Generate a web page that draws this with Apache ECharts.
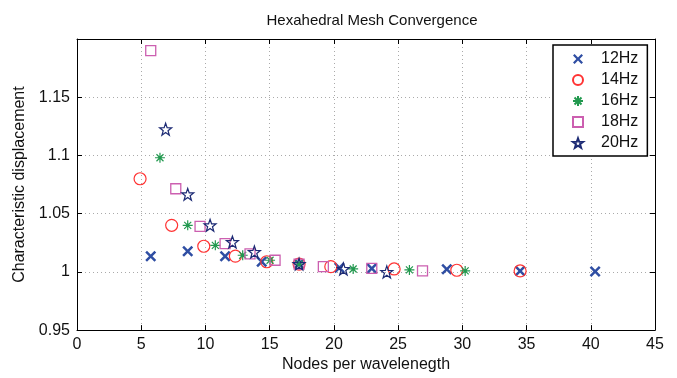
<!DOCTYPE html>
<html>
<head>
<meta charset="utf-8">
<script src="https://cdn.jsdelivr.net/npm/echarts@6/dist/echarts.min.js"></script>
<style>html,body{margin:0;padding:0;background:#fff;}#c{width:677px;height:378px;}</style>
</head>
<body>
<div id="c"></div>
<script>
const seriesNames = ['12Hz', '14Hz', '16Hz', '18Hz', '20Hz'];
const x12 = [5.74, 8.62, 11.53, 14.38, 17.29, 20.43, 22.95, 28.79, 34.5, 40.34];
const y12 = [1.0135, 1.0177, 1.0135, 1.0087, 1.0067, 1.0036, 1.003, 1.0023, 1.0008, 1.0003];
const x14 = [4.91, 7.37, 9.87, 12.33, 14.77, 17.29, 19.76, 24.69, 29.57, 34.5];
const y14 = [1.080, 1.040, 1.022, 1.0135, 1.0087, 1.0067, 1.0045, 1.0025, 1.0014, 1.0008];
const x16 = [6.46, 8.62, 10.77, 12.9, 15.03, 17.29, 21.5, 25.88, 30.22];
const y16 = [1.098, 1.040, 1.0228, 1.0143, 1.010, 1.0067, 1.0025, 1.0017, 1.0008];
const x18 = [5.74, 7.69, 9.58, 11.53, 13.47, 15.42, 17.29, 19.18, 22.95, 26.9];
const y18 = [1.19, 1.0714, 1.039, 1.0242, 1.0155, 1.010, 1.0067, 1.0045, 1.003, 1.0008];
const x20 = [6.9, 8.62, 10.36, 12.1, 13.81, 17.29, 20.74, 24.12];
const y20 = [1.1225, 1.0666, 1.040, 1.0256, 1.0171, 1.0067, 1.0025, 1.0];

const xTicks = [0, 5, 10, 15, 20, 25, 30, 35, 40, 45];
const yTicks = [0.95, 1, 1.05, 1.1, 1.15, 1.2];

const FONT = '"Liberation Sans", Arial, Helvetica, sans-serif';
const pair = (xs, ys) => xs.map((x, i) => [x, ys[i]]);

const SYM_X = 'path://M0,1.6 L1.6,0 L5,3.4 L8.4,0 L10,1.6 L6.6,5 L10,8.4 L8.4,10 L5,6.6 L1.6,10 L0,8.4 L3.4,5 Z';
const SYM_AST = 'path://M5,0 L5,10 M0,5 L10,5 M1.5,1.5 L8.5,8.5 M8.5,1.5 L1.5,8.5 M3.9,3.9 L6.1,3.9 L6.1,6.1 L3.9,6.1 Z';
const SYM_STAR = 'path://M5,0 L6.176,3.382 L9.755,3.455 L6.902,5.618 L7.939,9.045 L5,7 L2.061,9.045 L3.098,5.618 L0.245,3.455 L3.824,3.382 Z';

const chart = echarts.init(document.getElementById('c'), null, {renderer: 'canvas'});

function axisCommon() {
  return {
    axisLine: {show: true, onZero: false, lineStyle: {color: '#000', width: 1}},
    axisTick: {show: true, inside: true, length: 5, lineStyle: {color: '#000'}},
  };
}

chart.setOption({
  backgroundColor: '#fff',
  animation: false,
  title: {
    text: 'Hexahedral Mesh Convergence',
    left: 367, top: 8, textAlign: 'center',
    textStyle: {fontFamily: FONT, fontSize: 15, fontWeight: 'normal', color: '#111'}
  },
  legend: {
    orient: 'vertical',
    left: 553, top: 45,
    padding: [6, 9, 5, 19],
    itemGap: 5,
    itemWidth: 10, itemHeight: 10,
    backgroundColor: '#fff',
    borderColor: '#000', borderWidth: 1.5, borderRadius: 0,
    textStyle: {fontFamily: FONT, fontSize: 16, color: '#111', padding: [0, 0, 0, 13]},
    data: seriesNames
  },
  grid: {left: 77, right: 22, top: 39, bottom: 42, containLabel: false},
  xAxis: [
    Object.assign(axisCommon(), {
      type: 'value', min: xTicks[0], max: xTicks[xTicks.length - 1], interval: 5,
      position: 'bottom',
      axisLabel: {fontFamily: FONT, fontSize: 16, color: '#111', margin: 6},
      splitLine: {show: true, lineStyle: {color: '#aaa', type: [1, 3], width: 1}},
      name: 'Nodes per wavelenegth', nameLocation: 'middle', nameGap: 25,
      nameTextStyle: {fontFamily: FONT, fontSize: 16, color: '#111'}
    }),
    Object.assign(axisCommon(), {
      type: 'value', min: xTicks[0], max: xTicks[xTicks.length - 1], interval: 5,
      position: 'top', axisLabel: {show: false}, splitLine: {show: false}
    })
  ],
  yAxis: [
    Object.assign(axisCommon(), {
      type: 'value', min: yTicks[0], max: yTicks[yTicks.length - 1], interval: 0.05,
      position: 'left',
      axisLabel: {fontFamily: FONT, fontSize: 16, color: '#111', margin: 7, showMaxLabel: false,
        formatter: v => (Math.abs(v - 1.2) < 1e-9 ? '' : String(+v.toFixed(2)))},
      splitLine: {show: true, lineStyle: {color: '#aaa', type: [1, 3], width: 1}},
      name: 'Characteristic displacement', nameLocation: 'middle', nameGap: 43,
      nameTextStyle: {fontFamily: FONT, fontSize: 16, color: '#111'}
    }),
    Object.assign(axisCommon(), {
      type: 'value', min: yTicks[0], max: yTicks[yTicks.length - 1], interval: 0.05,
      position: 'right', axisLabel: {show: false}, splitLine: {show: false}
    })
  ],
  series: [
    {name: '12Hz', type: 'scatter', data: pair(x12, y12), symbol: SYM_X, symbolSize: 11,
      itemStyle: {color: '#2f4ea3', borderWidth: 0, opacity: 1}},
    {name: '14Hz', type: 'scatter', data: pair(x14, y14), symbol: 'circle', symbolSize: 12,
      itemStyle: {color: 'rgba(0,0,0,0)', borderColor: '#ff3333', borderWidth: 1.2, opacity: 1}},
    {name: '16Hz', type: 'scatter', data: pair(x16, y16), symbol: SYM_AST, symbolSize: 10,
      itemStyle: {color: '#0f6e38', borderColor: '#22994f', borderWidth: 1.2, opacity: 1}},
    {name: '18Hz', type: 'scatter', data: pair(x18, y18), symbol: 'rect', symbolSize: 10,
      itemStyle: {color: 'rgba(0,0,0,0)', borderColor: '#cc5fb0', borderWidth: 1.3, opacity: 1}},
    {name: '20Hz', type: 'scatter', data: pair(x20, y20), symbol: SYM_STAR, symbolSize: 12,
      itemStyle: {color: 'rgba(0,0,0,0)', borderColor: '#1c2a74', borderWidth: 1.2, opacity: 1}}
  ]
});
</script>
</body>
</html>
